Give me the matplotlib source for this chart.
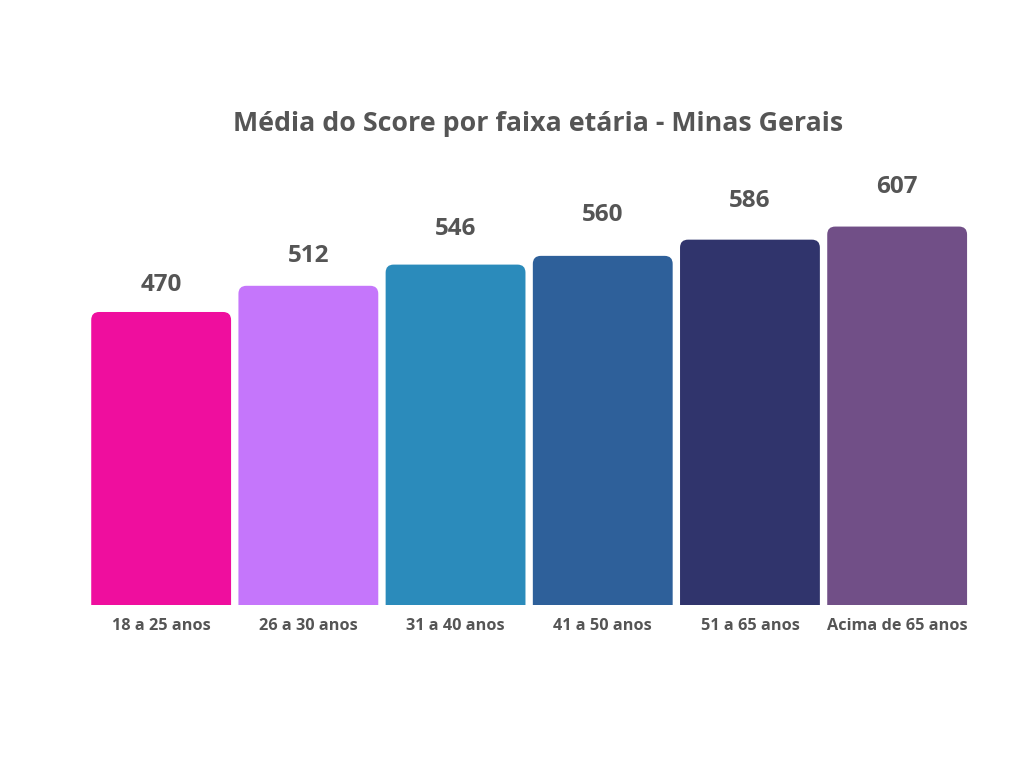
import matplotlib
matplotlib.use("Agg")
import matplotlib.pyplot as plt
from matplotlib.patches import FancyBboxPatch

categories = ["18 a 25 anos", "26 a 30 anos", "31 a 40 anos", "41 a 50 anos", "51 a 65 anos", "Acima de 65 anos"]
values = [470, 512, 546, 560, 586, 607]
colors = ["#EF0E9E", "#C576FB", "#2B8BBB", "#2E609A", "#30346C", "#714F87"]
title = "Média do Score por faixa etária - Minas Gerais"

# vertical offset (pixels) of each value label above its bar
label_offsets = [27, 30, 36, 41, 39, 40]

plt.rcParams['font.family'] = ['Open Sans', 'DejaVu Sans']
text_color = "#555555"

fig = plt.figure(figsize=(10.24, 7.68), dpi=100)
ax = fig.add_axes([0.0855, 0.2122, 0.8625, 0.5683])
ymax = 700
ax.set_xlim(-0.5, len(values) - 0.5)
ax.set_ylim(0, ymax)

fig.canvas.draw()
bbox = ax.get_window_extent()
px_per_x = bbox.width / (len(values))
px_per_y = bbox.height / ymax
radius_px = 8
r_x = radius_px / px_per_x
aspect = px_per_x / px_per_y

width = 0.95
for i, (v, c) in enumerate(zip(values, colors)):
    patch = FancyBboxPatch((i - width / 2, -40), width, v + 40,
                           boxstyle=f"round,pad=0,rounding_size={r_x}",
                           mutation_aspect=aspect,
                           facecolor=c, edgecolor="none")
    ax.add_patch(patch)
    ax.annotate(str(v), (i, v), xytext=(0, label_offsets[i]), textcoords="offset pixels",
                ha="center", va="center", fontsize=17.5, fontweight="bold",
                color=text_color)

ax.set_xticks(range(len(categories)))
ax.set_xticklabels(categories, fontsize=11.7, fontweight="bold", color=text_color)
ax.tick_params(axis="x", length=0, pad=9)
ax.set_yticks([])
for s in ax.spines.values():
    s.set_visible(False)

fig.text(0.525, 1 - 124 / 768, title, ha="center", va="center",
         fontsize=19.3, fontweight="bold", color=text_color)

fig.savefig("out.png", dpi=100, facecolor="white")
